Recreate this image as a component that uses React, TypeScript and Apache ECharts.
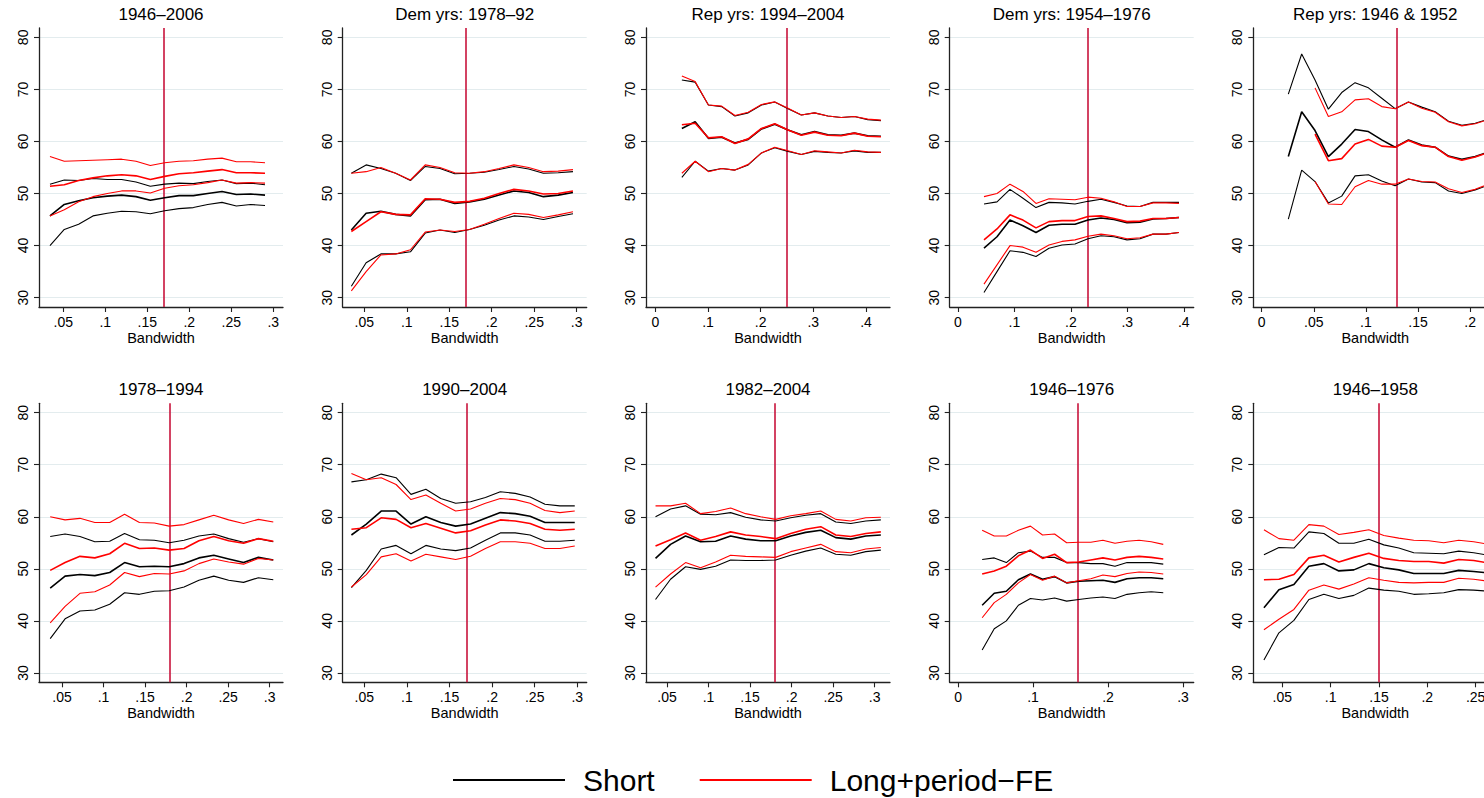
import React, { useEffect, useRef } from "react";
import * as echarts from "echarts";

const FONT = "Liberation Sans, Arial, Helvetica, sans-serif";

// bandwidth multipliers of the optimal bandwidth h (0.2h ... 1.7h)
const BW_MULT = [0.2, 0.3, 0.4, 0.5, 0.6, 0.7, 0.8, 0.9, 1.0, 1.1, 1.2, 1.3, 1.4, 1.5, 1.6, 1.7];

const TITLES = [
  "1946–2006", "Dem yrs: 1978–92", "Rep yrs: 1994–2004", "Dem yrs: 1954–1976", "Rep yrs: 1946 & 1952",
  "1978–1994", "1990–2004", "1982–2004", "1946–1976", "1946–1958",
];
// optimal bandwidth (red vertical line)
const OPT_BW = [0.1707, 0.1739, 0.252, 0.2303, 0.128, 0.179, 0.1747, 0.1808, 0.161, 0.155];
const X_MIN = [0.0211, 0.0246, -0.0177, -0.0147, -0.008, 0.0223, 0.0247, 0.0247, -0.0111, 0.02];
const X_MAX = [0.3116, 0.3118, 0.4456, 0.4176, 0.226, 0.316, 0.311, 0.3184, 0.3143, 0.2724];
const X_TICKS = [
  [0.05, 0.1, 0.15, 0.2, 0.25, 0.3],
  [0.05, 0.1, 0.15, 0.2, 0.25, 0.3],
  [0, 0.1, 0.2, 0.3, 0.4],
  [0, 0.1, 0.2, 0.3, 0.4],
  [0, 0.05, 0.1, 0.15, 0.2],
  [0.05, 0.1, 0.15, 0.2, 0.25, 0.3],
  [0.05, 0.1, 0.15, 0.2, 0.25, 0.3],
  [0.05, 0.1, 0.15, 0.2, 0.25, 0.3],
  [0, 0.1, 0.2, 0.3],
  [0.05, 0.1, 0.15, 0.2, 0.25],
];
const Y_TICKS = [30, 40, 50, 60, 70, 80];

// Panel 1: 1946-2006
const short1Hi = [51.8, 52.6, 52.5, 52.9, 52.7, 52.7, 52.2, 51.4, 51.8, 52.0, 51.9, 52.3, 52.6, 51.9, 52.0, 51.7];
const short1Est = [45.7, 47.9, 48.6, 49.2, 49.5, 49.7, 49.4, 48.7, 49.2, 49.6, 49.6, 50.0, 50.4, 49.8, 49.9, 49.7];
const short1Lo = [40.0, 43.1, 44.1, 45.7, 46.2, 46.6, 46.5, 46.1, 46.7, 47.1, 47.3, 47.9, 48.3, 47.6, 47.9, 47.7];
const long1Hi = [57.1, 56.2, 56.3, 56.4, 56.5, 56.6, 56.2, 55.4, 55.9, 56.2, 56.3, 56.6, 56.8, 56.1, 56.1, 55.9];
const long1Est = [51.4, 51.7, 52.5, 53.0, 53.4, 53.6, 53.4, 52.7, 53.3, 53.8, 54.0, 54.3, 54.6, 54.0, 54.0, 53.9];
const long1Lo = [45.7, 46.9, 48.4, 49.4, 50.0, 50.5, 50.5, 50.1, 51.0, 51.5, 51.7, 52.1, 52.6, 52.0, 52.1, 52.0];

// Panel 2: Dem yrs 1978-92
const short2Hi = [53.9, 55.5, 54.8, 53.9, 52.5, 55.2, 54.8, 53.8, 53.9, 54.1, 54.6, 55.2, 54.7, 53.9, 54.0, 54.2];
const short2Est = [43.0, 46.2, 46.6, 46.0, 45.7, 48.8, 48.9, 48.1, 48.4, 48.9, 49.7, 50.5, 50.2, 49.4, 49.7, 50.2];
const short2Lo = [32.2, 36.7, 38.4, 38.4, 38.8, 42.4, 43.0, 42.5, 43.1, 43.9, 44.9, 45.7, 45.5, 45.0, 45.6, 46.1];
const long2Hi = [53.9, 54.2, 55.0, 53.9, 52.6, 55.5, 55.0, 54.0, 53.9, 54.2, 54.8, 55.5, 55.0, 54.2, 54.3, 54.6];
const long2Est = [42.7, 44.6, 46.5, 46.0, 45.9, 49.0, 48.9, 48.3, 48.5, 49.1, 50.0, 50.8, 50.5, 49.9, 50.0, 50.5];
const long2Lo = [31.3, 35.0, 38.2, 38.4, 39.2, 42.6, 43.0, 42.7, 43.1, 44.1, 45.2, 46.2, 46.0, 45.4, 45.9, 46.5];

// Panel 3: Rep yrs 1994-2004
const short3Hi = [71.8, 71.4, 67.0, 66.7, 64.9, 65.5, 67.0, 67.6, 66.3, 65.1, 65.5, 64.9, 64.6, 64.8, 64.2, 64.0];
const short3Est = [62.5, 63.8, 60.6, 60.8, 59.7, 60.4, 62.4, 63.3, 62.2, 61.3, 61.9, 61.3, 61.2, 61.6, 61.1, 61.0];
const short3Lo = [53.1, 56.2, 54.3, 54.8, 54.5, 55.5, 57.8, 58.8, 58.1, 57.5, 58.1, 57.9, 57.8, 58.2, 57.9, 57.9];
const long3Hi = [72.6, 71.5, 67.0, 66.8, 65.0, 65.6, 67.1, 67.6, 66.4, 65.1, 65.5, 64.9, 64.6, 64.8, 64.3, 64.1];
const long3Est = [63.2, 63.5, 60.7, 60.9, 59.6, 60.5, 62.5, 63.4, 62.2, 61.2, 61.8, 61.2, 61.1, 61.6, 61.0, 60.9];
const long3Lo = [53.9, 56.2, 54.2, 54.8, 54.5, 55.6, 57.8, 58.9, 58.2, 57.5, 58.2, 58.0, 57.8, 58.3, 58.0, 57.9];

// Panel 4: Dem yrs 1954-1976
const short4Hi = [48.0, 48.4, 50.8, 49.1, 47.3, 48.3, 48.2, 48.0, 48.5, 48.9, 48.3, 47.6, 47.5, 48.3, 48.3, 48.3];
const short4Est = [39.5, 41.7, 44.9, 43.8, 42.5, 43.9, 44.1, 44.1, 44.9, 45.3, 45.0, 44.4, 44.5, 45.1, 45.2, 45.4];
const short4Lo = [31.0, 35.0, 39.0, 38.7, 37.9, 39.5, 40.1, 40.3, 41.3, 41.9, 41.7, 41.1, 41.3, 42.2, 42.2, 42.5];
const long4Hi = [49.4, 50.0, 51.8, 50.4, 48.1, 49.0, 48.9, 48.8, 49.3, 49.1, 48.4, 47.5, 47.5, 48.2, 48.2, 48.1];
const long4Est = [41.1, 43.2, 45.9, 44.9, 43.4, 44.6, 44.8, 44.8, 45.6, 45.7, 45.2, 44.6, 44.7, 45.2, 45.2, 45.4];
const long4Lo = [32.6, 36.3, 40.0, 39.7, 38.7, 40.1, 40.8, 41.1, 41.8, 42.2, 41.9, 41.3, 41.5, 42.2, 42.2, 42.5];

// Panel 5: Rep yrs 1946 & 1952
const short5Hi = [69.1, 76.8, 71.8, 66.2, 69.4, 71.3, 70.3, 68.3, 66.3, 67.6, 66.6, 65.7, 63.9, 63.1, 63.5, 64.3];
const short5Est = [57.1, 65.7, 62.1, 57.1, 59.5, 62.3, 61.9, 60.3, 58.9, 60.3, 59.3, 58.9, 57.2, 56.6, 57.1, 58.0];
const short5Lo = [45.1, 54.5, 52.3, 48.2, 49.5, 53.4, 53.6, 52.4, 51.5, 52.8, 52.2, 52.1, 50.5, 50.0, 50.7, 51.6];
const long5Hi = [null, null, 70.3, 64.8, 65.7, 68.0, 68.2, 66.7, 66.3, 67.6, 66.4, 65.6, 63.8, 63.0, 63.4, 64.2];
const long5Est = [null, null, 61.4, 56.3, 56.7, 59.5, 60.4, 59.1, 58.9, 60.2, 59.2, 58.9, 57.1, 56.4, 57.0, 57.9];
const long5Lo = [null, null, 52.3, 48.0, 47.9, 51.3, 52.5, 51.8, 51.8, 52.8, 52.3, 52.2, 50.9, 50.2, 50.8, 51.8];

// Panel 6: 1978-1994
const short6Hi = [56.2, 56.7, 56.2, 55.2, 55.3, 56.8, 55.6, 55.5, 55.0, 55.5, 56.3, 56.7, 55.8, 55.1, 55.8, 55.2];
const short6Est = [46.3, 48.6, 48.9, 48.7, 49.3, 51.2, 50.4, 50.5, 50.4, 51.0, 52.1, 52.6, 51.9, 51.2, 52.2, 51.7];
const short6Lo = [36.6, 40.4, 41.9, 42.1, 43.2, 45.4, 45.1, 45.7, 45.8, 46.5, 47.8, 48.6, 47.8, 47.4, 48.3, 47.9];
const long6Hi = [60.0, 59.4, 59.7, 58.9, 58.9, 60.5, 58.9, 58.8, 58.2, 58.5, 59.4, 60.3, 59.4, 58.7, 59.5, 59.0];
const long6Est = [49.7, 51.2, 52.4, 52.1, 52.9, 54.9, 53.9, 54.0, 53.6, 53.9, 55.4, 56.2, 55.4, 54.9, 55.8, 55.3];
const long6Lo = [39.6, 42.8, 45.3, 45.6, 46.9, 49.3, 48.5, 49.1, 49.0, 49.6, 51.0, 51.9, 51.3, 50.9, 52.0, 51.7];

// Panel 7: 1990-2004
const short7Hi = [66.7, 67.1, 68.2, 67.5, 64.3, 65.3, 63.5, 62.6, 62.9, 63.7, 64.8, 64.5, 63.8, 62.4, 62.1, 62.1];
const short7Est = [56.5, 58.6, 61.1, 61.1, 58.6, 60.0, 58.9, 58.2, 58.6, 59.7, 60.8, 60.6, 60.1, 58.9, 58.9, 58.9];
const short7Lo = [46.4, 49.7, 53.8, 54.5, 52.9, 54.5, 53.8, 53.5, 54.0, 55.5, 56.9, 56.9, 56.5, 55.3, 55.3, 55.5];
const long7Hi = [68.3, 67.1, 67.5, 66.2, 63.3, 64.2, 62.6, 61.1, 61.5, 62.6, 63.5, 63.3, 62.6, 61.2, 60.8, 61.1];
const long7Est = [57.6, 57.9, 59.8, 59.5, 57.9, 58.7, 57.8, 56.9, 57.3, 58.4, 59.4, 59.2, 58.7, 57.6, 57.4, 57.6];
const long7Lo = [46.5, 48.9, 52.3, 52.9, 51.5, 52.8, 52.3, 51.8, 52.4, 53.9, 55.2, 55.2, 54.9, 53.9, 53.9, 54.4];

// Panel 8: 1982-2004
const short8Hi = [60.0, 61.5, 62.1, 60.5, 60.4, 60.8, 59.9, 59.4, 59.2, 59.8, 60.3, 60.6, 59.0, 58.7, 59.2, 59.4];
const short8Est = [52.0, 54.7, 56.3, 55.2, 55.3, 56.3, 55.7, 55.4, 55.4, 56.3, 57.0, 57.4, 56.0, 55.7, 56.3, 56.5];
const short8Lo = [44.1, 48.0, 50.4, 49.9, 50.5, 51.7, 51.6, 51.6, 51.7, 52.6, 53.4, 54.0, 52.8, 52.6, 53.3, 53.6];
const long8Hi = [62.1, 62.1, 62.6, 60.6, 61.0, 61.7, 60.6, 60.0, 59.5, 60.2, 60.6, 61.1, 59.5, 59.2, 59.8, 59.9];
const long8Est = [54.4, 55.6, 56.9, 55.5, 56.2, 57.1, 56.5, 56.2, 55.8, 56.8, 57.6, 58.1, 56.5, 56.2, 56.8, 57.1];
const long8Lo = [46.5, 49.0, 51.2, 50.2, 51.3, 52.6, 52.4, 52.3, 52.2, 53.3, 54.0, 54.7, 53.3, 53.1, 53.8, 54.1];

// Panel 9: 1946-1976
const short9Hi = [51.8, 52.1, 51.2, 53.1, 53.4, 52.2, 52.2, 51.2, 51.2, 51.0, 51.0, 50.5, 51.2, 51.2, 51.2, 50.9];
const short9Est = [43.0, 45.3, 45.7, 47.9, 49.0, 48.0, 48.5, 47.3, 47.6, 47.7, 47.8, 47.4, 48.1, 48.3, 48.3, 48.1];
const short9Lo = [34.4, 38.5, 40.0, 43.0, 44.3, 44.0, 44.4, 43.8, 44.1, 44.4, 44.6, 44.3, 45.1, 45.4, 45.6, 45.4];
const long9Hi = [57.4, 56.3, 56.3, 57.4, 58.2, 56.5, 56.7, 55.0, 55.1, 55.1, 55.5, 54.9, 55.3, 55.5, 55.2, 54.7];
const long9Est = [49.0, 49.6, 50.5, 52.5, 53.6, 52.0, 52.8, 51.2, 51.3, 51.7, 52.1, 51.7, 52.2, 52.4, 52.2, 51.9];
const long9Lo = [40.6, 43.5, 45.1, 47.3, 48.9, 47.8, 48.6, 47.3, 47.7, 48.1, 48.8, 48.5, 49.1, 49.4, 49.3, 49.0];

// Panel 10: 1946-1958
const short10Hi = [52.7, 54.1, 54.0, 57.1, 56.8, 54.9, 54.9, 55.7, 54.6, 54.0, 53.1, 53.0, 52.9, 53.4, 53.1, 52.6];
const short10Est = [42.5, 46.0, 47.0, 50.5, 51.0, 49.6, 49.8, 51.0, 50.2, 49.8, 49.1, 49.1, 49.1, 49.7, 49.5, 49.2];
const short10Lo = [32.5, 37.7, 40.1, 44.1, 45.1, 44.3, 44.9, 46.3, 45.9, 45.7, 45.1, 45.2, 45.4, 46.0, 45.9, 45.7];
const long10Hi = [57.5, 55.8, 55.5, 58.5, 58.2, 56.6, 57.0, 57.5, 56.4, 55.9, 55.5, 55.4, 55.0, 55.5, 55.2, 54.7];
const long10Est = [47.9, 48.0, 48.9, 52.1, 52.6, 51.3, 52.2, 53.0, 52.0, 51.6, 51.4, 51.4, 51.1, 51.8, 51.6, 51.1];
const long10Lo = [38.3, 40.3, 42.2, 45.9, 46.9, 46.1, 47.1, 48.3, 47.8, 47.4, 47.3, 47.4, 47.4, 48.2, 48.0, 47.6];

const SHORT = [
  [short1Hi, short1Est, short1Lo], [short2Hi, short2Est, short2Lo], [short3Hi, short3Est, short3Lo],
  [short4Hi, short4Est, short4Lo], [short5Hi, short5Est, short5Lo], [short6Hi, short6Est, short6Lo],
  [short7Hi, short7Est, short7Lo], [short8Hi, short8Est, short8Lo], [short9Hi, short9Est, short9Lo],
  [short10Hi, short10Est, short10Lo],
];
const LONG = [
  [long1Hi, long1Est, long1Lo], [long2Hi, long2Est, long2Lo], [long3Hi, long3Est, long3Lo],
  [long4Hi, long4Est, long4Lo], [long5Hi, long5Est, long5Lo], [long6Hi, long6Est, long6Lo],
  [long7Hi, long7Est, long7Lo], [long8Hi, long8Est, long8Lo], [long9Hi, long9Est, long9Lo],
  [long10Hi, long10Est, long10Lo],
];

const SHORT_NAME = "Short";
const LONG_NAME = "Long+period−FE";

// layout (the chart canvas is a bit wider than the page; the last column is cut off like in the original)
const CANVAS_W = 1510;
const GRID_LEFTS = [39, 342.7, 646, 949.7, 1253.3];
const GRID_TOPS = [28, 403.3];
const GRID_W = 244;
const GRID_H = 279;

const fmtTick = (v: number) => (v === 0 ? "0" : String(v).replace(/^0\./, "."));

function buildOption() {
  const grid: any[] = [];
  const xAxis: any[] = [];
  const yAxis: any[] = [];
  const title: any[] = [];
  const series: any[] = [];

  for (let i = 0; i < 10; i++) {
    const left = GRID_LEFTS[i % 5];
    const top = GRID_TOPS[i < 5 ? 0 : 1];
    grid.push({ left, top, width: GRID_W, height: GRID_H, containLabel: false });
    title.push({
      text: TITLES[i],
      left: left + GRID_W / 2,
      top: top - 22,
      textAlign: "center",
      padding: 0,
      textStyle: { fontSize: 17, fontWeight: "normal", color: "#000", fontFamily: FONT },
    });
    xAxis.push({
      gridIndex: i,
      type: "value",
      min: X_MIN[i],
      max: X_MAX[i],
      name: "Bandwidth",
      nameLocation: "middle",
      nameGap: 23,
      nameTextStyle: { fontSize: 14.5, color: "#000", fontFamily: FONT },
      axisLine: { show: true, onZero: false, lineStyle: { color: "#222", width: 1.3 } },
      axisTick: { show: true, length: 5, customValues: X_TICKS[i], lineStyle: { color: "#222", width: 1.1 } },
      axisLabel: {
        customValues: X_TICKS[i],
        formatter: fmtTick,
        fontSize: 14,
        color: "#000",
        margin: 8,
        fontFamily: FONT,
      },
      splitLine: { show: false },
    });
    yAxis.push({
      gridIndex: i,
      type: "value",
      min: 28.2,
      max: 81.8,
      axisLine: { show: true, onZero: false, lineStyle: { color: "#222", width: 1.3 } },
      axisTick: { show: true, length: 5, customValues: Y_TICKS, lineStyle: { color: "#222", width: 1.1 } },
      axisLabel: { customValues: Y_TICKS, rotate: 90, fontSize: 14, color: "#000", margin: 9, fontFamily: FONT },
      splitLine: { show: true, lineStyle: { color: "#e3ecee", width: 1 } },
    });

    const h = OPT_BW[i];
    const mk = (arr: (number | null)[]) =>
      BW_MULT.map((m, k) => [m * h, arr[k]]).filter((p) => p[1] !== null);

    const widths = [1.1, 1.6, 1.1];
    SHORT[i].forEach((arr, j) => {
      const s: any = {
        type: "line",
        name: SHORT_NAME,
        xAxisIndex: i,
        yAxisIndex: i,
        data: mk(arr),
        symbol: "none",
        showSymbol: false,
        silent: true,
        lineStyle: { color: "#000", width: widths[j] },
        itemStyle: { color: "#000" },
        z: 2,
      };
      if (j === 0) {
        s.markLine = {
          silent: true,
          symbol: ["none", "none"],
          label: { show: false },
          lineStyle: { color: "#c8143c", width: 1.6, type: "solid" },
          data: [{ xAxis: h }],
          z: 1,
        };
      }
      series.push(s);
    });
    LONG[i].forEach((arr, j) => {
      series.push({
        type: "line",
        name: LONG_NAME,
        xAxisIndex: i,
        yAxisIndex: i,
        data: mk(arr),
        symbol: "none",
        showSymbol: false,
        silent: true,
        lineStyle: { color: "#ff0000", width: widths[j] },
        itemStyle: { color: "#ff0000" },
        z: 3,
      });
    });
  }

  return {
    animation: false,
    backgroundColor: "#ffffff",
    textStyle: { fontFamily: FONT },
    title,
    grid,
    xAxis,
    yAxis,
    legend: {
      data: [SHORT_NAME, LONG_NAME],
      left: 453,
      top: 765,
      padding: 0,
      icon: "rect",
      itemWidth: 112,
      itemHeight: 2,
      itemGap: 45,
      selectedMode: false,
      textStyle: { fontSize: 30, color: "#000", fontFamily: FONT, padding: [0, 0, 0, 13] },
    },
    series,
  };
}

export default function App() {
  const ref = useRef<HTMLDivElement>(null);
  useEffect(() => {
    if (!ref.current) return;
    const chart = echarts.init(ref.current, null, { renderer: "svg" });
    chart.setOption(buildOption() as any);
    return () => chart.dispose();
  }, []);
  return (
    <div
      style={{
        position: "fixed",
        left: 0,
        top: 0,
        width: 1484,
        height: 798,
        overflow: "hidden",
        background: "#fff",
      }}
    >
      <div ref={ref} style={{ width: CANVAS_W, height: 798 }} />
    </div>
  );
}
